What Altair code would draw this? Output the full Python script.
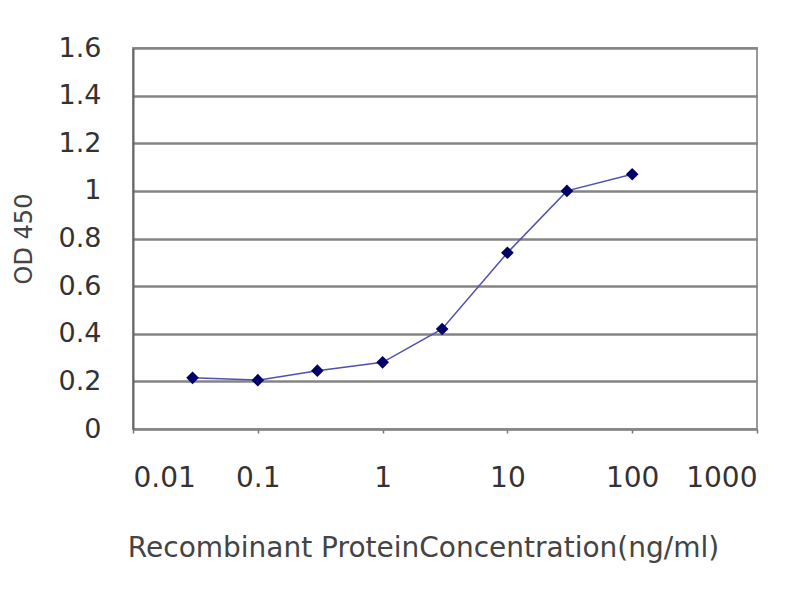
import altair as alt
import pandas as pd

# ELISA standard curve values
concentration = [0.03, 0.1, 0.3, 1, 3, 10, 30, 100]
od450 = [0.215, 0.205, 0.245, 0.28, 0.42, 0.74, 1.0, 1.07]
x_ticks = [0.01, 0.1, 1, 10, 100, 1000]
y_ticks = [0, 0.2, 0.4, 0.6, 0.8, 1.0, 1.2, 1.4, 1.6]

data = pd.DataFrame({"concentration": concentration, "od450": od450})

font = "DejaVu Sans"

base = alt.Chart(data).encode(
    x=alt.X(
        "concentration",
        type="quantitative",
        scale=alt.Scale(type="log", domain=[0.01, 1000]),
        axis=alt.Axis(
            title="Recombinant ProteinConcentration(ng/ml)",
            values=x_ticks,
            format="~g",
            grid=False,
            tickSize=4,
            tickColor="#777777",
            tickWidth=1.5,
            domainColor="#888888",
            domainWidth=2,
            labelPadding=31,
            labelFontSize=28,
            titlePadding=42,
            titleFontSize=28,
            titleX=423 - 133,
        ),
    ),
    y=alt.Y(
        "od450",
        type="quantitative",
        scale=alt.Scale(domain=[0, 1.6], nice=False),
        axis=alt.Axis(
            title="OD 450",
            values=y_ticks,
            format="~g",
            grid=True,
            gridColor="#858585",
            gridWidth=2.5,
            ticks=False,
            domainColor="#666666",
            domainWidth=2,
            labelPadding=32,
            labelFontSize=27,
            titlePadding=22,
            titleFontSize=24,
        ),
    ),
)

line = base.mark_line(color="#5050b0", strokeWidth=1.5)
points = base.mark_point(shape="diamond", filled=True, size=160, color="#000066", opacity=1)

chart = (
    (line + points)
    .properties(
        width=624,
        height=381,
        autosize="none",
        padding={"left": 125, "top": 40, "right": 35, "bottom": 163},
        background="white",
    )
    .configure_axis(
        labelFont=font,
        labelColor="#333333",
        titleFont=font,
        titleFontWeight="normal",
        titleColor="#444444",
    )
    .configure_view(stroke="#999999", strokeWidth=2)
)

chart.save("out.html", embed_options={"renderer": "svg", "actions": False})
